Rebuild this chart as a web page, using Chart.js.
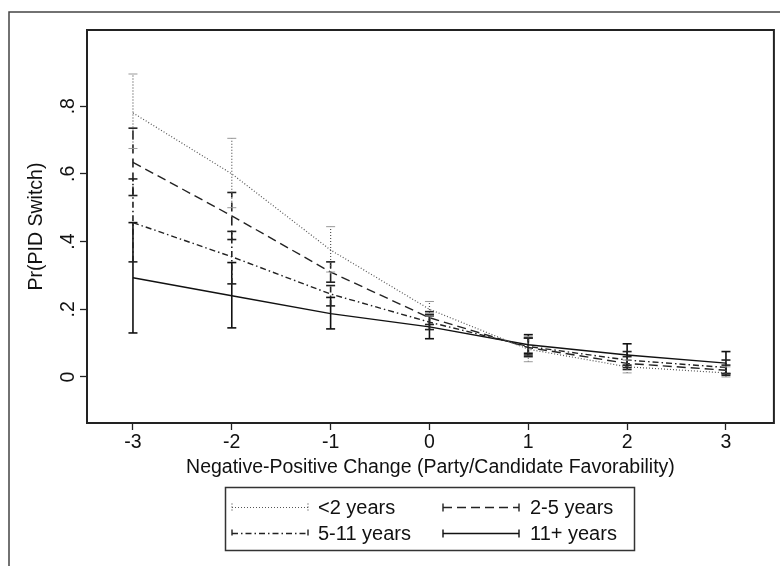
<!DOCTYPE html>
<html>
<head>
<meta charset="utf-8">
<script src="https://cdn.jsdelivr.net/npm/chart.js@4.4.1/dist/chart.umd.min.js"></script>
<style>
  html, body { margin: 0; padding: 0; background: #fff; }
  #wrap { width: 780px; height: 566px; position: relative; }
</style>
</head>
<body>
<div id="wrap"><canvas id="chart" width="780" height="566"></canvas></div>
<script>
// Predicted probability of a party ID switch, by years of attachment
const xValues = [-3, -2, -1, 0, 1, 2, 3];
const xTickLabels = ['-3', '-2', '-1', '0', '1', '2', '3'];
const yTickValues = [0, 0.2, 0.4, 0.6, 0.8];
const yTickLabels = ['0', '.2', '.4', '.6', '.8'];

const seriesNames = ['<2 years', '2-5 years', '5-11 years', '11+ years'];

const under2 = [0.78, 0.60, 0.375, 0.20, 0.082, 0.030, 0.012];
const under2Lo = [0.675, 0.50, 0.31, 0.18, 0.045, 0.012, 0.0];
const under2Hi = [0.895, 0.705, 0.444, 0.223, 0.12, 0.05, 0.03];

const from2to5 = [0.634, 0.476, 0.31, 0.175, 0.087, 0.040, 0.020];
const from2to5Lo = [0.536, 0.406, 0.28, 0.155, 0.06, 0.022, 0.005];
const from2to5Hi = [0.735, 0.545, 0.34, 0.193, 0.115, 0.06, 0.035];

const from5to11 = [0.456, 0.355, 0.245, 0.162, 0.090, 0.050, 0.028];
const from5to11Lo = [0.34, 0.275, 0.21, 0.14, 0.065, 0.028, 0.01];
const from5to11Hi = [0.585, 0.43, 0.27, 0.185, 0.115, 0.075, 0.05];

const over11 = [0.293, 0.24, 0.187, 0.148, 0.095, 0.065, 0.041];
const over11Lo = [0.13, 0.145, 0.142, 0.113, 0.07, 0.035, 0.01];
const over11Hi = [0.456, 0.338, 0.235, 0.18, 0.125, 0.098, 0.075];

const FONT = '"Liberation Sans", Arial, Helvetica, sans-serif';
const INK = '#111';

// line look for each series (dotted, dashed, dash-dot, solid)
const styles = [
    { dash: [1, 2], width: 1.2, color: '#555' },
    { dash: [9, 5], width: 1.4, color: '#222' },
    { dash: [6, 3, 1.5, 3], width: 1.4, color: '#222' },
    { dash: [], width: 1.4, color: '#111' }
];

const means = [under2, from2to5, from5to11, over11];
const lows = [under2Lo, from2to5Lo, from5to11Lo, over11Lo];
const highs = [under2Hi, from2to5Hi, from5to11Hi, over11Hi];

function linePoints(vals) {
    return xValues.map((x, i) => ({ x, y: vals[i] }));
}

function barPoints(lo, hi) {
    const pts = [];
    xValues.forEach((x, i) => {
        pts.push({ x, y: lo[i] }, { x, y: hi[i] }, { x, y: null });
    });
    return pts;
}

const datasets = [];
means.forEach((vals, k) => {
    const s = styles[k];
    datasets.push({
        label: seriesNames[k],
        data: linePoints(vals),
        showLine: true,
        borderColor: s.color,
        borderWidth: s.width,
        borderDash: s.dash,
        pointRadius: 0,
        spanGaps: false
    });
    datasets.push({
        label: seriesNames[k] + ' CI',
        data: barPoints(lows[k], highs[k]),
        showLine: true,
        borderColor: s.color,
        borderWidth: k === 0 ? 1.2 : 1.6,
        borderDash: s.dash,
        spanGaps: false,
        pointStyle: 'line',
        pointRadius: 4.5,
        pointBorderWidth: k === 0 ? 1 : 1.6,
        pointBorderColor: k === 0 ? '#999' : s.color,
        pointHoverRadius: 0
    });
});

const framePlugin = {
    id: 'frames',
    beforeDraw(chart) {
        const ctx = chart.ctx;
        ctx.save();
        ctx.strokeStyle = '#444';
        ctx.lineWidth = 1.5;
        ctx.beginPath();
        ctx.moveTo(9, 566);
        ctx.lineTo(9, 12);
        ctx.lineTo(780, 12);
        ctx.stroke();
        ctx.restore();
    },
    afterDraw(chart) {
        const ctx = chart.ctx;
        const a = chart.chartArea;
        ctx.save();
        ctx.strokeStyle = '#222';
        ctx.lineWidth = 2;
        ctx.strokeRect(a.left, a.top, a.right - a.left, a.bottom - a.top);

        // legend box, 2 x 2
        ctx.lineWidth = 1.5;
        ctx.strokeStyle = '#333';
        ctx.strokeRect(225.5, 487.5, 409, 63);
        const cols = [{ sx: 232, tx: 318 }, { sx: 443, tx: 530 }];
        const rows = [507, 533];
        ctx.font = '20px ' + FONT;
        ctx.fillStyle = INK;
        ctx.textBaseline = 'middle';
        seriesNames.forEach((name, k) => {
            const c = cols[k % 2];
            const y = rows[Math.floor(k / 2)] + 0.5;
            const s = styles[k];
            ctx.strokeStyle = s.color;
            ctx.lineWidth = s.width;
            ctx.setLineDash(s.dash);
            ctx.beginPath();
            ctx.moveTo(c.sx, y);
            ctx.lineTo(c.sx + 76, y);
            ctx.stroke();
            // end caps, drawn in the series' own pattern
            ctx.beginPath();
            ctx.moveTo(c.sx, y - 4);
            ctx.lineTo(c.sx, y + 4);
            ctx.moveTo(c.sx + 76, y - 4);
            ctx.lineTo(c.sx + 76, y + 4);
            ctx.stroke();
            ctx.setLineDash([]);
            ctx.fillText(name, c.tx, y + 1);
        });
        ctx.restore();
    }
};

new Chart(document.getElementById('chart'), {
    type: 'scatter',
    data: { datasets },
    options: {
        responsive: false,
        animation: false,
        events: [],
        layout: { padding: { left: 0, top: 30, right: 5, bottom: 83 } },
        plugins: {
            legend: { display: false },
            tooltip: { enabled: false }
        },
        scales: {
            x: {
                type: 'linear',
                min: -3.465,
                max: 3.485,
                afterBuildTicks: s => { s.ticks = xValues.map(v => ({ value: v })); },
                afterFit: s => { s.height = 60; },
                ticks: {
                    callback: (v, i) => xTickLabels[i],
                    maxRotation: 0,
                    padding: 1,
                    color: INK,
                    font: { family: FONT, size: 19.5 }
                },
                grid: { drawOnChartArea: false, tickLength: 7, tickColor: '#222', tickWidth: 1.3 },
                border: { display: false },
                title: {
                    display: true,
                    text: 'Negative-Positive Change (Party/Candidate Favorability)',
                    color: INK,
                    font: { family: FONT, size: 19.5 },
                    padding: { top: 0, bottom: 4 }
                }
            },
            y: {
                min: -0.136,
                max: 1.025,
                afterBuildTicks: s => { s.ticks = yTickValues.map(v => ({ value: v })); },
                afterFit: s => { s.width = 87; },
                ticks: {
                    callback: (v, i) => yTickLabels[i],
                    minRotation: 90,
                    maxRotation: 90,
                    crossAlign: 'center',
                    padding: 3,
                    color: INK,
                    font: { family: FONT, size: 19.5 }
                },
                grid: { drawOnChartArea: false, tickLength: 7, tickColor: '#222', tickWidth: 1.3 },
                border: { display: false },
                title: {
                    display: true,
                    text: 'Pr(PID Switch)',
                    color: INK,
                    font: { family: FONT, size: 19.5 },
                    padding: { top: 25, bottom: 0 }
                }
            }
        }
    },
    plugins: [framePlugin]
});
</script>
</body>
</html>
